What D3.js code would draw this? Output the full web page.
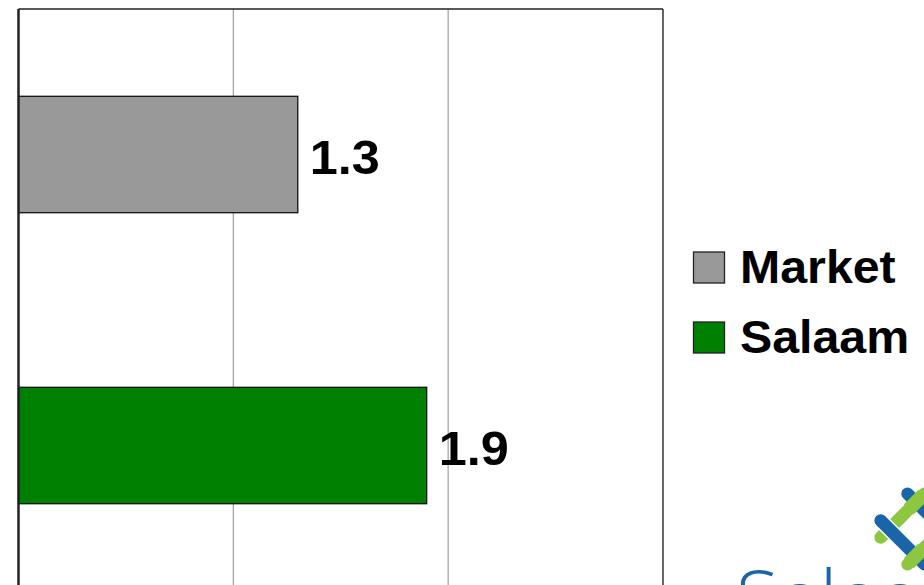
<!DOCTYPE html>
<html>
<head>
<meta charset="utf-8">
<script src="https://cdn.jsdelivr.net/npm/d3@7"></script>
<style>
  html, body { margin: 0; padding: 0; background: #ffffff; }
  svg { display: block; }
</style>
</head>
<body>
<div id="chart"></div>
<script>
const categories = ["Market", "Salaam"];
const values = [1.3, 1.9];
const colors = ["#999999", "#008000"];
const valueLabels = ["1.3", "1.9"];
const xTicks = [0, 1, 2, 3];
const logoText = "Salaam";

const W = 924, H = 585;
const svg = d3.select("#chart").append("svg").attr("width", W).attr("height", H);

const plot = { left: 18.5, right: 663, top: 9, bottom: 591 };

const x = d3.scaleLinear().domain([0, 3]).range([plot.left, plot.right]);
const y = d3.scaleBand().domain(categories).range([plot.top, plot.bottom])
  .paddingInner(0.6).paddingOuter(0.3);

// gridlines
svg.append("g").selectAll("line").data(xTicks.slice(1, -1)).join("line")
  .attr("x1", d => x(d)).attr("x2", d => x(d))
  .attr("y1", plot.top).attr("y2", plot.bottom)
  .attr("stroke", "#a6a6a6").attr("stroke-width", 1.3);

// bars
svg.append("g").selectAll("rect").data(categories).join("rect")
  .attr("x", x(0))
  .attr("y", d => y(d))
  .attr("width", (d, i) => x(values[i]) - x(0))
  .attr("height", y.bandwidth())
  .attr("fill", (d, i) => colors[i])
  .attr("stroke", "#111")
  .attr("stroke-width", 1.3);

// frame
svg.append("line").attr("x1", plot.left).attr("x2", plot.right)
  .attr("y1", plot.top).attr("y2", plot.top).attr("stroke", "#222").attr("stroke-width", 1.5);
svg.append("line").attr("x1", plot.right).attr("x2", plot.right)
  .attr("y1", plot.top).attr("y2", plot.bottom).attr("stroke", "#333").attr("stroke-width", 1.5);
svg.append("line").attr("x1", plot.left).attr("x2", plot.left)
  .attr("y1", plot.top).attr("y2", plot.bottom).attr("stroke", "#222").attr("stroke-width", 2.5);

// value labels
svg.append("g").selectAll("text").data(categories).join("text")
  .attr("transform", (d, i) => `translate(${x(values[i]) + 12},${y(d) + y.bandwidth() / 2 + 19}) scale(1.05,1)`)
  .attr("font-family", "Liberation Sans, Arial, sans-serif")
  .attr("font-weight", "bold")
  .attr("font-size", 48)
  .attr("fill", "#000")
  .text((d, i) => valueLabels[i]);

// legend
const legend = svg.append("g");
const legY = [252, 322];
categories.forEach((c, i) => {
  legend.append("rect")
    .attr("x", 693.5).attr("y", legY[i])
    .attr("width", 31).attr("height", 31)
    .attr("fill", colors[i]).attr("stroke", "#222").attr("stroke-width", 1.3);
  legend.append("text")
    .attr("transform", `translate(740,${legY[i] + 31}) scale(1.05,1)`)
    .attr("font-family", "Liberation Sans, Arial, sans-serif")
    .attr("font-weight", "bold")
    .attr("font-size", 46)
    .attr("fill", "#000")
    .text(c);
});

// logo (partially visible)
const logo = svg.append("g").attr("transform", "translate(916,529) rotate(45)");
const blue = "#1a64a8", green = "#8dc63f";
[-26, 12].forEach(o => {
  logo.append("rect").attr("x", o).attr("y", -38).attr("width", 14).attr("height", 76)
    .attr("rx", 7).attr("fill", green).attr("stroke", "#fff").attr("stroke-width", 1.5);
});
[-26, 12].forEach(o => {
  logo.append("rect").attr("x", -38).attr("y", o).attr("width", 76).attr("height", 14)
    .attr("rx", 7).attr("fill", blue).attr("stroke", "#fff").attr("stroke-width", 1.5);
});
[[-26, -26], [12, 12]].forEach(([gx, by]) => {
  logo.append("rect").attr("x", gx).attr("y", by - 3).attr("width", 14).attr("height", 20)
    .attr("fill", green);
});

svg.append("text")
  .attr("x", 736).attr("y", 626)
  .attr("font-family", "Open Sans, sans-serif")
  .attr("font-weight", 300)
  .attr("font-size", 78)
  .attr("fill", blue)
  .text(logoText);
</script>
</body>
</html>
